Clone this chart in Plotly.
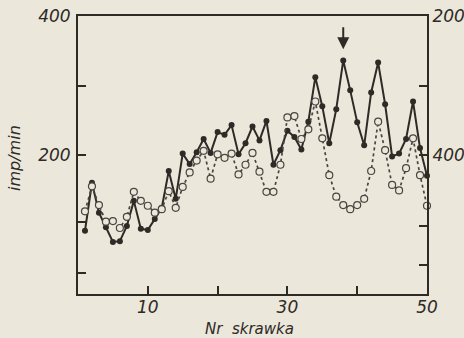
import plotly.graph_objects as go

# Section number (Nr skrawka)
section = list(range(1, 51))

# Filled-dot series (solid line), imp/min
solid_vals = [91, 160, 117, 96, 75, 76, 98, 134, 94, 92,
              108, 124, 177, 137, 202, 187, 204, 223, 203, 233,
              229, 243, 201, 217, 241, 221, 249, 186, 207, 235,
              226, 208, 248, 312, 270, 217, 266, 336, 293, 247,
              214, 290, 333, 273, 198, 202, 223, 277, 210, 170]

# Open-circle series (dotted line)
dotted_vals = [119, 155, 128, 104, 105, 95, 111, 147, 134, 127,
               117, 122, 148, 124, 154, 175, 192, 206, 166, 201,
               196, 202, 172, 186, 203, 176, 147, 147, 186, 254,
               256, 223, 237, 277, 224, 171, 140, 128, 122, 128,
               137, 177, 248, 207, 157, 149, 181, 224, 171, 127]

x_tickvals = [10, 20, 30, 40, 50]
x_ticktext = ["10", "", "30", "", "50"]
left_tickvals = [30, 104, 200, 300, 400]
left_ticktext = ["", "", "200", "", "400"]
right_tickvals = [42, 98, 200, 300, 400]
right_ticktext = ["", "", "400", "", "200"]

BG = "#ebe7db"
INK = "#2e2a26"
FONT = dict(family="DejaVu Sans, Arial, sans-serif", size=17, color=INK, style="italic")

fig = go.Figure()
fig.add_trace(go.Scatter(
    x=section, y=dotted_vals, yaxis="y2", mode="lines+markers",
    line=dict(color="#4a4540", width=1.7, dash="dot"),
    marker=dict(symbol="circle", size=7, color=BG, line=dict(color="#4a4540", width=1.2)),
    showlegend=False, cliponaxis=False, hoverinfo="skip"))
fig.add_trace(go.Scatter(
    x=section, y=solid_vals, mode="lines+markers",
    line=dict(color=INK, width=2),
    marker=dict(symbol="circle", size=6, color=INK),
    showlegend=False, cliponaxis=False, hoverinfo="skip"))

fig.add_annotation(x=38, y=352, ax=38, ay=386, xref="x", yref="y", axref="x", ayref="y",
                   text="", showarrow=True, arrowhead=2, arrowsize=1.2, arrowwidth=2,
                   arrowcolor=INK)

fig.add_annotation(x=0.49, y=-0.127, xref="paper", yref="paper", text="Nr  skrawka",
                   showarrow=False, font=dict(FONT, size=15), xanchor="center", yanchor="middle")
fig.add_annotation(x=-0.18, y=0.49, xref="paper", yref="paper", text="imp/min",
                   showarrow=False, font=dict(FONT, size=16), textangle=-90,
                   xanchor="center", yanchor="middle")

axis_common = dict(showgrid=False, zeroline=False, showline=True, linecolor=INK, linewidth=2,
                   ticks="inside", ticklen=8, tickwidth=1.5, tickcolor=INK, tickfont=FONT,
                   automargin=False)

fig.update_layout(
    width=464, height=338, autosize=False,
    margin=dict(l=78, r=37, t=16, b=44, autoexpand=False),
    paper_bgcolor=BG, plot_bgcolor=BG,
    xaxis=dict(axis_common, range=[0, 50], tickvals=x_tickvals, ticktext=x_ticktext,
               mirror=True, ticklabelstandoff=-3),
    yaxis=dict(axis_common, range=[0, 400], tickvals=left_tickvals, ticktext=left_ticktext,
               ticklabelstandoff=2),
    yaxis2=dict(axis_common, range=[0, 400], overlaying="y", side="right",
                tickvals=right_tickvals, ticktext=right_ticktext),
)

fig.write_html("out.html", config={"displayModeBar": False, "responsive": False},
               post_script="document.body.style.margin='0';document.body.style.background='%s';" % BG)
